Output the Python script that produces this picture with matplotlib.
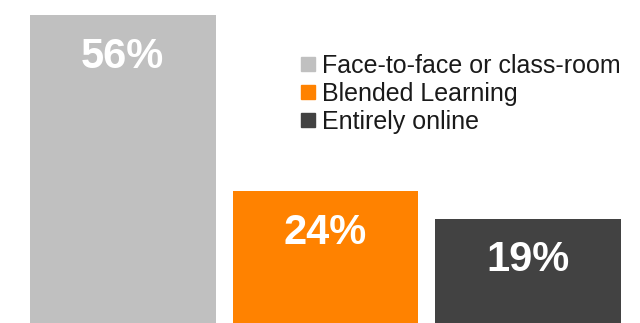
import matplotlib.pyplot as plt
from matplotlib.lines import Line2D

plt.rcParams['font.family'] = ['Liberation Sans', 'DejaVu Sans']

# data
categories = ["Face-to-face or class-room", "Blended Learning", "Entirely online"]
values = [56, 24, 19]
labels = ["56%", "24%", "19%"]
colors = ["#c0c0c0", "#ff8200", "#424242"]

fig = plt.figure(figsize=(6.4, 3.23), dpi=100)
ax = fig.add_axes([30 / 640, 0, 591 / 640, 1])

bar_w = 0.915
x = range(len(values))
bars = ax.bar(x, values, width=bar_w, color=colors)

ax.set_xlim(-bar_w / 2, len(values) - 1 + bar_w / 2)
ax.set_ylim(0, 323 / 5.5)
ax.axis("off")

# value labels inside the bars, a fixed distance below the top
for b, lab in zip(bars, labels):
    ax.annotate(lab, (b.get_x() + b.get_width() / 2, b.get_height()),
                xytext=(0, -30), textcoords="offset points",
                ha="center", va="center", color="white",
                fontsize=30, fontweight="bold")

handles = [Line2D([], [], marker="s", linestyle="none", markersize=10,
                  markerfacecolor=c, markeredgecolor=c) for c in colors]
fig.legend(handles, categories, loc="upper left",
           bbox_to_anchor=(300 / 640, 1 - 54 / 323),
           frameon=False, fontsize=18, handlelength=0.6, handletextpad=0.3,
           labelspacing=0.15, borderaxespad=0, borderpad=0,
           labelcolor="#1a1a1a")

fig.savefig("out.png", dpi=100)
